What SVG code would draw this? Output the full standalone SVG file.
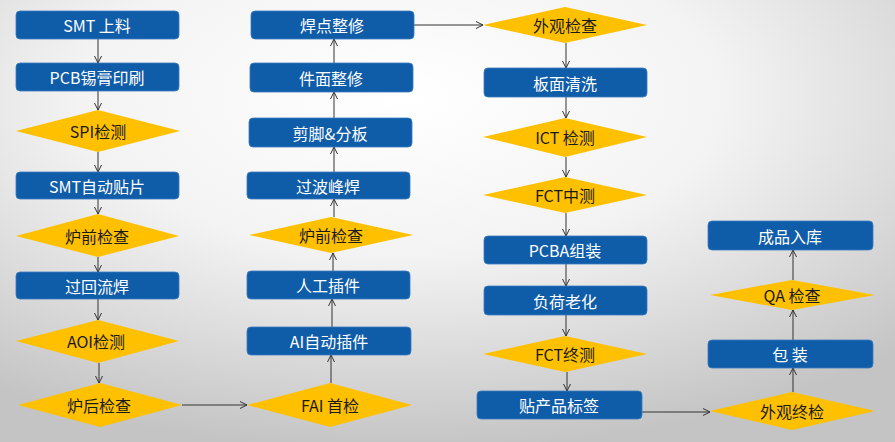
<svg xmlns="http://www.w3.org/2000/svg" width="895" height="442" viewBox="0 0 895 442">
<defs>
<radialGradient id="bg" cx="45%" cy="22%" r="80%" fx="45%" fy="22%">
<stop offset="0" stop-color="#ffffff"/>
<stop offset="0.45" stop-color="#f3f3f3"/>
<stop offset="1" stop-color="#c4c4c4"/>
</radialGradient>
<marker id="ah" viewBox="0 0 8 8" refX="7.5" refY="4" markerWidth="8" markerHeight="8" markerUnits="userSpaceOnUse" orient="auto">
<path d="M0.5,0.5 L7.5,4 L0.5,7.5" fill="none" stroke="#333" stroke-width="1"/>
</marker>
<style>
.b{fill:#0f5ca8;stroke:#3a7cc0;stroke-width:0.8}
.d{fill:#ffc000}
.tb{font-family:"Noto Sans CJK SC","Liberation Sans",sans-serif;font-size:16px;fill:#ffffff;text-anchor:middle;dominant-baseline:central}
.td{font-family:"Noto Sans CJK SC","Liberation Sans",sans-serif;font-size:16px;fill:#1a1a1a;text-anchor:middle;dominant-baseline:central}
.c{stroke:#333;stroke-width:1;fill:none;marker-end:url(#ah)}
</style>
</defs>
<rect x="0" y="0" width="895" height="442" fill="url(#bg)"/>

<g id="connectors">
<line class="c" x1="98" y1="39" x2="98" y2="63"/>
<line class="c" x1="98" y1="91" x2="98" y2="110"/>
<line class="c" x1="98" y1="152" x2="98" y2="172"/>
<line class="c" x1="98" y1="199" x2="98" y2="214"/>
<line class="c" x1="98" y1="257" x2="98" y2="272"/>
<line class="c" x1="98" y1="299" x2="98" y2="320"/>
<line class="c" x1="99" y1="363" x2="99" y2="383"/>
<line class="c" x1="182" y1="405" x2="247" y2="405"/>
<line class="c" x1="331" y1="383" x2="331" y2="355"/>
<line class="c" x1="332" y1="327" x2="332" y2="299"/>
<line class="c" x1="333" y1="271" x2="333" y2="253"/>
<line class="c" x1="334" y1="217" x2="334" y2="199"/>
<line class="c" x1="334" y1="172" x2="334" y2="147"/>
<line class="c" x1="334" y1="118" x2="334" y2="92"/>
<line class="c" x1="334" y1="63" x2="334" y2="39"/>
<line class="c" x1="414" y1="25" x2="483" y2="25"/>
<line class="c" x1="566" y1="43" x2="566" y2="68"/>
<line class="c" x1="566" y1="97" x2="566" y2="118"/>
<line class="c" x1="566" y1="157" x2="566" y2="177"/>
<line class="c" x1="566" y1="213" x2="566" y2="236"/>
<line class="c" x1="566" y1="264" x2="566" y2="286"/>
<line class="c" x1="566" y1="315" x2="566" y2="336"/>
<line class="c" x1="567" y1="372" x2="567" y2="391"/>
<line class="c" x1="642" y1="412" x2="710" y2="412"/>
<line class="c" x1="793" y1="392" x2="793" y2="368"/>
<line class="c" x1="793" y1="340" x2="793" y2="310"/>
<line class="c" x1="793" y1="280" x2="793" y2="250"/>
</g>

<g id="n1"><rect class="b" x="16" y="11" width="163" height="28" rx="4"/><text class="tb" x="97" y="25">SMT 上料</text></g>
<g id="n2"><rect class="b" x="16" y="63" width="163" height="28" rx="4"/><text class="tb" x="97" y="77">PCB锡膏印刷</text></g>
<g id="n3"><polygon class="d" points="16,131 98,110 180,131 98,152"/><text class="td" x="98" y="131">SPI检测</text></g>
<g id="n4"><rect class="b" x="16" y="172" width="163" height="27" rx="4"/><text class="tb" x="97" y="185.5">SMT自动贴片</text></g>
<g id="n5"><polygon class="d" points="16,236 98,214 179,236 98,257"/><text class="td" x="97" y="236">炉前检查</text></g>
<g id="n6"><rect class="b" x="16" y="272" width="163" height="27" rx="4"/><text class="tb" x="97" y="285.5">过回流焊</text></g>
<g id="n7"><polygon class="d" points="16,341 98,320 179,341 98,363"/><text class="td" x="96" y="341">AOI检测</text></g>
<g id="n8"><polygon class="d" points="18,405 100,383 182,405 100,427"/><text class="td" x="99" y="405">炉后检查</text></g>

<g id="n9"><rect class="b" x="251" y="11" width="163" height="28" rx="4"/><text class="tb" x="332" y="25">焊点整修</text></g>
<g id="n10"><rect class="b" x="250" y="63" width="163" height="29" rx="4"/><text class="tb" x="331" y="77.5">件面整修</text></g>
<g id="n11"><rect class="b" x="249" y="118" width="163" height="29" rx="4"/><text class="tb" x="330" y="132.5">剪脚&amp;分板</text></g>
<g id="n12"><rect class="b" x="247" y="172" width="163" height="27" rx="4"/><text class="tb" x="328" y="185.5">过波峰焊</text></g>
<g id="n13"><polygon class="d" points="249,235 331,217 413,235 331,253"/><text class="td" x="331" y="235">炉前检查</text></g>
<g id="n14"><rect class="b" x="247" y="271" width="163" height="28" rx="4"/><text class="tb" x="328" y="285">人工插件</text></g>
<g id="n15"><rect class="b" x="247" y="327" width="164" height="28" rx="4"/><text class="tb" x="329" y="341">AI自动插件</text></g>
<g id="n16"><polygon class="d" points="247,405 330,383 412,405 330,427"/><text class="td" x="330" y="405">FAI 首检</text></g>

<g id="n17"><polygon class="d" points="483,25 565,7 647,25 565,43"/><text class="td" x="565" y="25">外观检查</text></g>
<g id="n18"><rect class="b" x="484" y="68" width="163" height="29" rx="4"/><text class="tb" x="565" y="82.5">板面清洗</text></g>
<g id="n19"><polygon class="d" points="483,137 565,118 647,137 565,157"/><text class="td" x="565" y="137">ICT 检测</text></g>
<g id="n20"><polygon class="d" points="483,195 565,177 647,195 565,213"/><text class="td" x="565" y="195">FCT中测</text></g>
<g id="n21"><rect class="b" x="484" y="236" width="163" height="28" rx="4"/><text class="tb" x="565" y="250">PCBA组装</text></g>
<g id="n22"><rect class="b" x="484" y="286" width="163" height="29" rx="4"/><text class="tb" x="565" y="300.5">负荷老化</text></g>
<g id="n23"><polygon class="d" points="483,354 565,336 647,354 565,372"/><text class="td" x="565" y="354">FCT终测</text></g>
<g id="n24"><rect class="b" x="477" y="391" width="165" height="28" rx="4"/><text class="tb" x="559" y="405">贴产品标签</text></g>

<g id="n25"><rect class="b" x="708" y="221" width="165" height="29" rx="4"/><text class="tb" x="790" y="235.5">成品入库</text></g>
<g id="n26"><polygon class="d" points="710,295 792,280 875,295 792,310"/><text class="td" x="792" y="295">QA 检查</text></g>
<g id="n27"><rect class="b" x="708" y="340" width="165" height="28" rx="4"/><text class="tb" x="790" y="354">包 装</text></g>
<g id="n28"><polygon class="d" points="710,411 792,392 875,411 792,430"/><text class="td" x="792" y="411">外观终检</text></g>
</svg>
